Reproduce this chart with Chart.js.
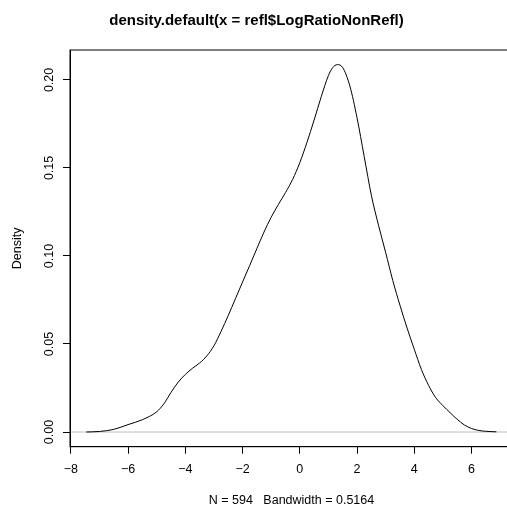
<!DOCTYPE html>
<html>
<head>
<meta charset="utf-8">
<script src="https://cdn.jsdelivr.net/npm/chart.js@4.4.0/dist/chart.umd.min.js"></script>
<style>
  html, body { margin: 0; padding: 0; background: #fff; overflow: hidden; }
  #wrap { width: 582px; height: 508px; }
</style>
</head>
<body>
<div id="wrap"><canvas id="densityChart" width="582" height="508"></canvas></div>
<script>
// density estimate
var densityX = [-7.46, -7.0, -6.5, -6.0, -5.5, -5.0, -4.75, -4.5, -4.25, -4.0, -3.75, -3.5, -3.25,
  -3.0, -2.75, -2.5, -2.25, -2.0, -1.75, -1.5, -1.25, -1.0, -0.75, -0.5, -0.25, 0.0, 0.25, 0.5,
  0.75, 1.0, 1.15, 1.31, 1.5, 1.75, 2.0, 2.25, 2.5, 2.75, 3.0, 3.25, 3.5, 3.75, 4.0, 4.25, 4.5,
  4.75, 5.0, 5.25, 5.5, 5.75, 6.0, 6.25, 6.5, 6.87];
var densityY = [0.0, 0.0003, 0.0015, 0.0042, 0.0070, 0.0115, 0.0160, 0.0225, 0.0283, 0.0327,
  0.0362, 0.0392, 0.0432, 0.0490, 0.0572, 0.0662, 0.0757, 0.0852, 0.0946, 0.1042, 0.1136, 0.1220,
  0.1292, 0.1360, 0.1435, 0.1530, 0.1645, 0.1772, 0.1905, 0.2025, 0.2070, 0.2087, 0.2070, 0.1965,
  0.1785, 0.1565, 0.1345, 0.1175, 0.1020, 0.0860, 0.0720, 0.0590, 0.0470, 0.0355, 0.0265, 0.0195,
  0.0150, 0.0110, 0.0072, 0.0040, 0.0020, 0.0009, 0.0004, 0.0001];

var xTicks = [-8, -6, -4, -2, 0, 2, 4, 6];
var yTicks = [0, 0.05, 0.10, 0.15, 0.20];
var xMin = -8.03, xMax = 7.45;
var yMin = -0.00835, yMax = 0.2170;

var titleText = "density.default(x = refl$LogRatioNonRefl)";
var xTitle = "N = 594   Bandwidth = 0.5164";
var yTitle = "Density";

var points = densityX.map(function (x, i) {
  return { x: x, y: densityY[i] };
});
var zeroLine = [{ x: xMin, y: 0 }, { x: xMax, y: 0 }];

var boxPlugin = {
  id: "box",
  afterDraw: function (chart) {
    var a = chart.chartArea;
    var ctx = chart.ctx;
    ctx.save();
    ctx.strokeStyle = "#000";
    ctx.lineWidth = 1;
    ctx.strokeRect(a.left, a.top, a.right - a.left, a.bottom - a.top);
    ctx.restore();
  }
};

var font = "Liberation Sans, Arial, Helvetica, sans-serif";

new Chart(document.getElementById("densityChart"), {
  type: "line",
  data: {
    datasets: [
      {
        data: points,
        borderColor: "#000",
        borderWidth: 1,
        pointRadius: 0,
        fill: false,
        cubicInterpolationMode: "monotone"
      },
      {
        data: zeroLine,
        borderColor: "#bebebe",
        borderWidth: 1,
        pointRadius: 0,
        fill: false
      }
    ]
  },
  options: {
    responsive: false,
    animation: false,
    layout: { padding: { left: 0, right: 69, top: 0, bottom: 0 } },
    plugins: {
      legend: { display: false },
      tooltip: { enabled: false },
      title: {
        display: true,
        text: titleText,
        color: "#000",
        font: { family: font, size: 15, weight: "bold", lineHeight: 1.2 },
        padding: { top: 12, bottom: 20 }
      }
    },
    scales: {
      x: {
        type: "linear",
        min: xMin,
        max: xMax,
        afterBuildTicks: function (scale) {
          scale.ticks = xTicks.map(function (v) { return { value: v }; });
        },
        afterFit: function (scale) { scale.height = 61.3; },
        grid: { drawOnChartArea: false, tickLength: 7, color: "#000" },
        border: { display: true, color: "#000" },
        ticks: {
          color: "#000",
          font: { family: font, size: 12.5 },
          padding: 8.8,
          maxRotation: 0,
          autoSkip: false,
          callback: function (v) { return String(v).replace("-", "\u2212"); }
        },
        title: {
          display: true,
          text: xTitle,
          color: "#000",
          font: { family: font, size: 12.5, lineHeight: 1 },
          padding: { top: 0, bottom: 0.75 }
        }
      },
      y: {
        type: "linear",
        min: yMin,
        max: yMax,
        afterBuildTicks: function (scale) {
          scale.ticks = yTicks.map(function (v) { return { value: v }; });
        },
        afterFit: function (scale) { scale.width = 70; },
        grid: { drawOnChartArea: false, tickLength: 7, color: "#000" },
        border: { display: true, color: "#000" },
        ticks: {
          color: "#000",
          font: { family: font, size: 12.5 },
          padding: 1,
          minRotation: 90,
          maxRotation: 90,
          crossAlign: "center",
          autoSkip: false,
          callback: function (v) { return v.toFixed(2); }
        },
        title: {
          display: true,
          text: yTitle,
          color: "#000",
          font: { family: font, size: 12.5, lineHeight: 1.2 },
          padding: { top: 10, bottom: 0 }
        }
      }
    }
  },
  plugins: [boxPlugin]
});
</script>
</body>
</html>
